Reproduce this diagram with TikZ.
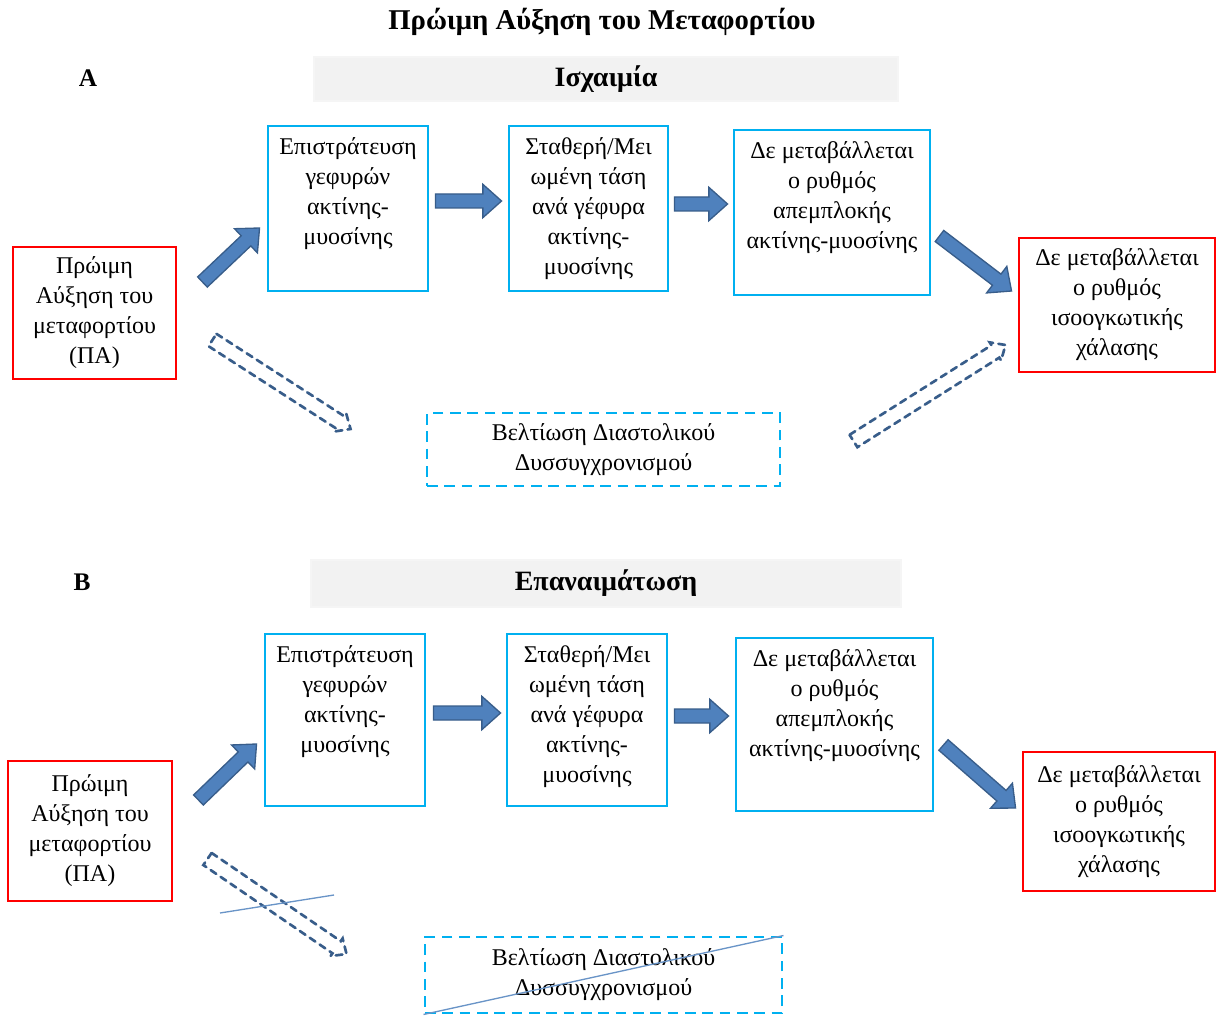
\documentclass[tikz,border=0pt]{standalone}
\usepackage{fontspec}
\setmainfont{Liberation Serif}
\usetikzlibrary{calc}
\usetikzlibrary{fit,positioning}

\definecolor{boxcyan}{HTML}{00B0F0}
\definecolor{boxred}{HTML}{FF0000}
\definecolor{arrowfill}{HTML}{4F81BD}
\definecolor{arrowline}{HTML}{385D8A}
\definecolor{barfill}{HTML}{F2F2F2}

\newcommand\boxfont{\fontsize{18}{22.5}\selectfont}
\newcommand\headfont{\bfseries\fontsize{21}{25}\selectfont}

\tikzset{
  cyanbox/.style={draw=boxcyan, line width=2.2pt, inner sep=0pt},
  redbox/.style={draw=boxred, line width=2.2pt, inner sep=0pt},
  dashbox/.style={draw=boxcyan, line width=2.2pt, dash pattern=on 8pt off 5pt, inner sep=0pt},
  headbar/.style={fill=barfill, draw=black!4, line width=1.5pt, inner sep=0pt},
  headtext/.style={inner sep=0pt, font=\headfont},
  boxtext/.style={align=center, inner sep=0pt, font=\boxfont},
  parttext/.style={inner sep=0pt, font=\bfseries\fontsize{19}{22}\selectfont},
  titletext/.style={inner sep=0pt, font=\bfseries\fontsize{21.5}{26}\selectfont},
  fatarrow/.style={fill=arrowfill, draw=arrowline, line width=1pt, line join=miter},
  hollowarrow/.style={draw=arrowline, line width=2pt, dash pattern=on 5pt off 4pt, line cap=round},
  crossline/.style={draw=arrowfill!85, line width=1pt}
}

% block arrow: style, half shaft, half head, head length, from, to
\newcommand\blockarrow[6]{%
  \coordinate (neck) at ($(#6)!#4!(#5)$);
  \path[#1] ($(#5)!#2!90:(#6)$) -- ($(neck)!#2!-90:(#5)$) -- ($(neck)!#3!-90:(#5)$) -- (#6)
    -- ($(neck)!#3!90:(#5)$) -- ($(neck)!#2!90:(#5)$) -- ($(#5)!#2!-90:(#6)$) -- cycle;
}
\newcommand\fatarrow[2]{\blockarrow{fatarrow}{5.25pt}{12.5pt}{14pt}{#1}{#2}}
\newcommand\hollowarrow[2]{\blockarrow{hollowarrow}{5.5pt}{8pt}{9pt}{#1}{#2}}

\begin{document}
\begin{tikzpicture}[x=0.75pt,y=-0.75pt]
    \useasboundingbox (0,0) rectangle (1217,1016);
    %title
    \node[titletext] (title) at (602,22) {Πρώιμη Αύξηση του Μεταφορτίου};

    %part A
    \node[parttext] (labA) at (88,78) {Α};
    \node[headbar, fit={(314,57) (898,101)}] (headA) {};
    \node[headtext] (headAt) at (headA) {Ισχαιμία};

    \node[cyanbox, fit={(268,126) (428,291)}] (a1) {};
    \node[cyanbox, fit={(509,126) (668,291)}] (a2) {};
    \node[cyanbox, fit={(734,130) (930,295)}] (a3) {};
    \node[boxtext, anchor=north] (a1t) at ($(a1.north)+(0,13)$) {Επιστράτευση\\γεφυρών\\ακτίνης-\\μυοσίνης};
    \node[boxtext, anchor=north] (a2t) at ($(a2.north)+(0,13)$) {Σταθερή/Μει\\ωμένη τάση\\ανά γέφυρα\\ακτίνης-\\μυοσίνης};
    \node[boxtext, anchor=north] (a3t) at ($(a3.north)+(0,13)$) {Δε μεταβάλλεται\\ο ρυθμός\\απεμπλοκής\\ακτίνης-μυοσίνης};

    \node[redbox, fit={(13,247) (176,379)}] (paA) {};
    \node[boxtext] (paAt) at (paA) {Πρώιμη\\Αύξηση του\\μεταφορτίου\\(ΠΑ)};
    \node[redbox, fit={(1019,238) (1215,372)}] (dmA) {};
    \node[boxtext] (dmAt) at (dmA) {Δε μεταβάλλεται\\ο ρυθμός\\ισοογκωτικής\\χάλασης};
    \node[dashbox, fit={(427,413) (780,486)}] (dsA) {};
    \node[boxtext] (dsAt) at (dsA) {Βελτίωση Διαστολικού\\Δυσσυγχρονισμού};

    \coordinate (a0s) at ($(paA.east)+(25,-31)$);
    \coordinate (a0e) at ($(a1.west)+(-7,19.5)$);
    \coordinate (a1s) at ($(a1.east)+(6,-7.5)$);
    \coordinate (a1e) at ($(a2.west)+(-6,-7.5)$);
    \coordinate (a2s) at ($(a2.east)+(5,-4.5)$);
    \coordinate (a2e) at ($(a3.west)+(-5,-8.5)$);
    \coordinate (a3s) at ($(a3.east)+(8,23.5)$);
    \coordinate (a3e) at ($(dmA.west)+(-6,-14)$);
    \fatarrow{a0s}{a0e}
    \fatarrow{a1s}{a1e}
    \fatarrow{a2s}{a2e}
    \fatarrow{a3s}{a3e}

    \coordinate (d1s) at ($(paA.east)+(35,27)$);
    \coordinate (d1e) at ($(dsA.west)+(-75,-20.5)$);
    \coordinate (d2s) at ($(dsA.east)+(72,-8.5)$);
    \coordinate (d2e) at ($(dmA.west)+(-12,40)$);
    \hollowarrow{d1s}{d1e}
    \hollowarrow{d2s}{d2e}

    %part B
    \node[parttext] (labB) at (82,582) {Β};
    \node[headbar, fit={(311,560) (901,607)}] (headB) {};
    \node[headtext] (headBt) at (headB) {Επαναιμάτωση};

    \node[cyanbox, fit={(265,634) (425,806)}] (b1) {};
    \node[cyanbox, fit={(507,634) (667,806)}] (b2) {};
    \node[cyanbox, fit={(736,638) (933,811)}] (b3) {};
    \node[boxtext, anchor=north] (b1t) at ($(b1.north)+(0,13)$) {Επιστράτευση\\γεφυρών\\ακτίνης-\\μυοσίνης};
    \node[boxtext, anchor=north] (b2t) at ($(b2.north)+(0,13)$) {Σταθερή/Μει\\ωμένη τάση\\ανά γέφυρα\\ακτίνης-\\μυοσίνης};
    \node[boxtext, anchor=north] (b3t) at ($(b3.north)+(0,13)$) {Δε μεταβάλλεται\\ο ρυθμός\\απεμπλοκής\\ακτίνης-μυοσίνης};

    \node[redbox, fit={(8,761) (172,901)}] (paB) {};
    \node[boxtext] (paBt) at (paB) {Πρώιμη\\Αύξηση του\\μεταφορτίου\\(ΠΑ)};
    \node[redbox, fit={(1023,752) (1215,891)}] (dmB) {};
    \node[boxtext] (dmBt) at (dmB) {Δε μεταβάλλεται\\ο ρυθμός\\ισοογκωτικής\\χάλασης};
    \node[dashbox, fit={(425,937) (782,1013)}] (dsB) {};
    \node[boxtext] (dsBt) at (dsB) {Βελτίωση Διαστολικού\\Δυσσυγχρονισμού};

    \coordinate (b0s) at ($(paB.east)+(25,-31)$);
    \coordinate (b0e) at ($(b1.west)+(-7,24)$);
    \coordinate (b1s) at ($(b1.east)+(7,-7)$);
    \coordinate (b1e) at ($(b2.west)+(-5,-7)$);
    \coordinate (b2s) at ($(b2.east)+(6,-4)$);
    \coordinate (b2e) at ($(b3.west)+(-6,-8.5)$);
    \coordinate (b3s) at ($(b3.east)+(9,20.5)$);
    \coordinate (b3e) at ($(dmB.west)+(-6,-13.5)$);
    \fatarrow{b0s}{b0e}
    \fatarrow{b1s}{b1e}
    \fatarrow{b2s}{b2e}
    \fatarrow{b3s}{b3e}

    \coordinate (e1s) at ($(paB.east)+(34,28)$);
    \coordinate (e1e) at ($(dsB.west)+(-77,-21)$);
    \hollowarrow{e1s}{e1e}

    %crossed out
    \coordinate (xs) at (220,913);
    \coordinate (xe) at (334,895);
    \draw[crossline] (xs) -- (xe);
    \draw[crossline] (dsB.south west) -- (dsB.north east);
\end{tikzpicture}
\end{document}
